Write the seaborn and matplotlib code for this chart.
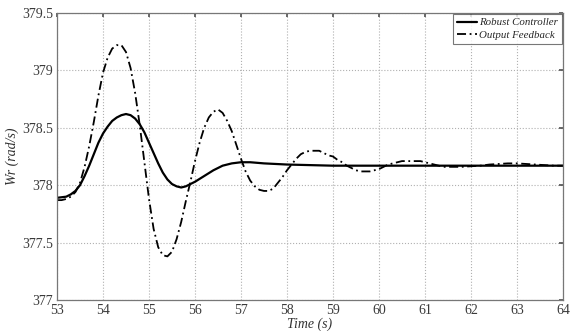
import numpy as np
import pandas as pd
import matplotlib
matplotlib.use("Agg")
import matplotlib.pyplot as plt
import seaborn as sns

# Robust controller (solid)
t_robust = [53.0, 53.2, 53.3, 53.4, 53.5, 53.6, 53.7, 53.8, 53.9, 54.0, 54.1, 54.2,
            54.3, 54.4, 54.5, 54.6, 54.7, 54.8, 54.9, 55.0, 55.1, 55.2, 55.3, 55.4,
            55.5, 55.6, 55.7, 55.8, 55.9, 56.0, 56.2, 56.4, 56.6, 56.8, 57.0, 57.2,
            57.5, 58.0, 58.5, 59.0, 60.0, 61.0, 62.0, 63.0, 64.0]
w_robust = [377.89, 377.90, 377.92, 377.95, 378.00, 378.08, 378.17, 378.27, 378.37, 378.45, 378.51, 378.56,
            378.59, 378.61, 378.62, 378.61, 378.58, 378.53, 378.46, 378.37, 378.28, 378.19, 378.11, 378.05,
            378.01, 377.99, 377.98, 377.99, 378.01, 378.03, 378.08, 378.13, 378.17, 378.19, 378.20, 378.20,
            378.19, 378.18, 378.175, 378.17, 378.17, 378.17, 378.17, 378.17, 378.17]

# Output feedback (dash-dot)
t_output = [53.0, 53.1, 53.2, 53.3, 53.4, 53.5, 53.6, 53.7, 53.8, 53.9, 54.0, 54.1,
            54.2, 54.3, 54.4, 54.5, 54.6, 54.7, 54.8, 54.9, 55.0, 55.1, 55.2, 55.3,
            55.4, 55.5, 55.6, 55.7, 55.8, 55.9, 56.0, 56.1, 56.2, 56.3, 56.4, 56.5,
            56.6, 56.7, 56.8, 56.9, 57.0, 57.1, 57.2, 57.3, 57.4, 57.5, 57.6, 57.7,
            57.8, 57.9, 58.0, 58.1, 58.2, 58.3, 58.4, 58.5, 58.6, 58.7, 58.8, 58.9,
            59.0, 59.1, 59.2, 59.3, 59.4, 59.5, 59.6, 59.7, 59.8, 59.9, 60.0, 60.1,
            60.2, 60.3, 60.4, 60.5, 60.6, 60.7, 60.8, 60.9, 61.0, 61.1, 61.2, 61.3,
            61.4, 61.6, 61.8, 62.0, 62.2, 62.4, 62.6, 62.8, 63.0, 63.2, 63.4, 63.6,
            63.8, 64.0]
w_output = [377.87, 377.87, 377.88, 377.90, 377.94, 378.02, 378.16, 378.34, 378.55, 378.78, 378.98, 379.11,
            379.19, 379.22, 379.22, 379.16, 379.02, 378.80, 378.52, 378.20, 377.88, 377.62, 377.46, 377.39,
            377.38, 377.42, 377.53, 377.68, 377.86, 378.03, 378.21, 378.37, 378.50, 378.59, 378.64, 378.66,
            378.63, 378.56, 378.47, 378.35, 378.23, 378.12, 378.04, 377.99, 377.96, 377.95, 377.95, 377.97,
            378.02, 378.07, 378.13, 378.18, 378.23, 378.27, 378.29, 378.30, 378.30, 378.30, 378.28, 378.26,
            378.25, 378.22, 378.20, 378.17, 378.15, 378.13, 378.12, 378.12, 378.12, 378.13, 378.14, 378.16,
            378.18, 378.19, 378.20, 378.21, 378.21, 378.21, 378.21, 378.21, 378.20, 378.19, 378.18, 378.17,
            378.16, 378.16, 378.16, 378.165, 378.17, 378.18, 378.185, 378.19, 378.19, 378.185, 378.18, 378.175,
            378.17, 378.17]

x_ticks = [53, 54, 55, 56, 57, 58, 59, 60, 61, 62, 63, 64]
y_ticks = [377, 377.5, 378, 378.5, 379, 379.5]

sns.set_theme(style="whitegrid")
plt.rcParams['font.family'] = ['Liberation Serif', 'DejaVu Serif']

fig = plt.figure(figsize=(5.8, 3.31), dpi=100)
ax = fig.add_axes([57 / 580, 1 - 300 / 331, 506 / 580, 287 / 331])

sns.lineplot(x=t_robust, y=w_robust, ax=ax, color='black', linewidth=1.6,
             label='Robust Controller')
sns.lineplot(x=t_output, y=w_output, ax=ax, color='black', linewidth=1.3,
             linestyle=(0, (5, 2, 1, 2)), label='Output Feedback')

ax.set_xlim(53, 64)
ax.set_ylim(377, 379.5)
ax.set_xticks(x_ticks)
ax.set_yticks(y_ticks)
ax.set_xticklabels([str(v) for v in x_ticks])
ax.set_yticklabels(['377', '377.5', '378', '378.5', '379', '379.5'])
ax.tick_params(direction='in', length=3, top=True, right=True, labelsize=10,
               colors='#555555', pad=3)
ax.tick_params(axis='both', labelcolor='#3a3a3a')

ax.grid(True, linestyle=':', color='#b0b0b0', linewidth=0.8)
ax.set_facecolor('white')
for sp in ax.spines.values():
    sp.set_color('#777777')
    sp.set_linewidth(0.9)

ax.set_xlabel('Time (s)', fontstyle='italic', fontsize=10, color='#333333', labelpad=0)
ax.set_ylabel('Wr (rad/s)', fontstyle='italic', fontsize=10, color='#333333', labelpad=2)

leg = ax.legend(loc='upper right', frameon=True, fancybox=False,
                borderaxespad=0.1, handlelength=1.9, handletextpad=0.2,
                borderpad=0.35, labelspacing=0.3,
                prop={'style': 'italic', 'size': 7.8})
leg.get_frame().set_edgecolor('#555555')
leg.get_frame().set_linewidth(0.8)

fig.savefig('out.png', dpi=100)
